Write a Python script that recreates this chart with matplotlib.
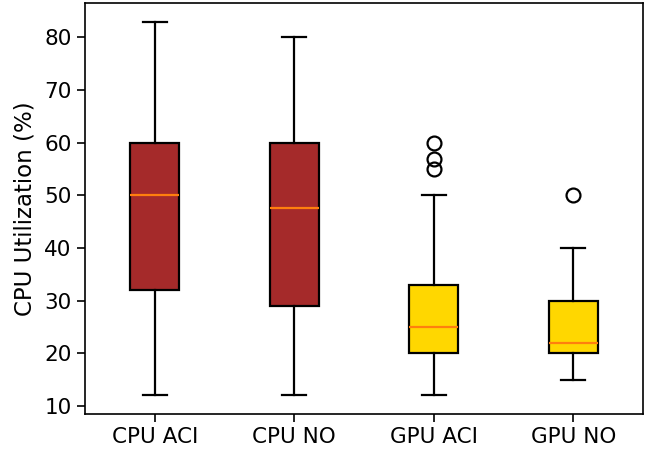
import matplotlib
matplotlib.use("Agg")
import matplotlib.pyplot as plt

labels = ["CPU ACI", "CPU NO", "GPU ACI", "GPU NO"]
whislo = [12, 12, 12, 15]
q1 = [32, 29, 20, 20]
med = [50, 47.5, 25, 22]
q3 = [60, 60, 33, 30]
whishi = [83, 80, 50, 40]
fliers = [[], [], [55, 57, 60], [50]]
colors = ["brown", "brown", "gold", "gold"]

stats = []
for i in range(len(labels)):
    stats.append(dict(label=labels[i], whislo=whislo[i], q1=q1[i], med=med[i],
                      q3=q3[i], whishi=whishi[i], fliers=fliers[i]))

fig = plt.figure(figsize=(6.46, 4.54), dpi=100)
ax = fig.add_axes([85/646, 1-414/454, (643-85)/646, (414-3)/454])
lw = 1.6
bp = ax.bxp(stats, patch_artist=True, widths=0.35,
            boxprops=dict(linewidth=lw, edgecolor="black"),
            whiskerprops=dict(linewidth=lw),
            capprops=dict(linewidth=lw),
            medianprops=dict(linewidth=lw, color="#ff7f0e"),
            flierprops=dict(marker="o", markersize=10, markeredgewidth=lw,
                            markerfacecolor="none", markeredgecolor="black"))
for patch, c in zip(bp["boxes"], colors):
    patch.set_facecolor(c)
for s in ax.spines.values():
    s.set_linewidth(1.2)
ax.tick_params(labelsize=15.5, width=1.2, length=6)
ax.set_ylabel("CPU Utilization (%)", fontsize=16.5, labelpad=6)
fig.savefig("out.png", dpi=100)
